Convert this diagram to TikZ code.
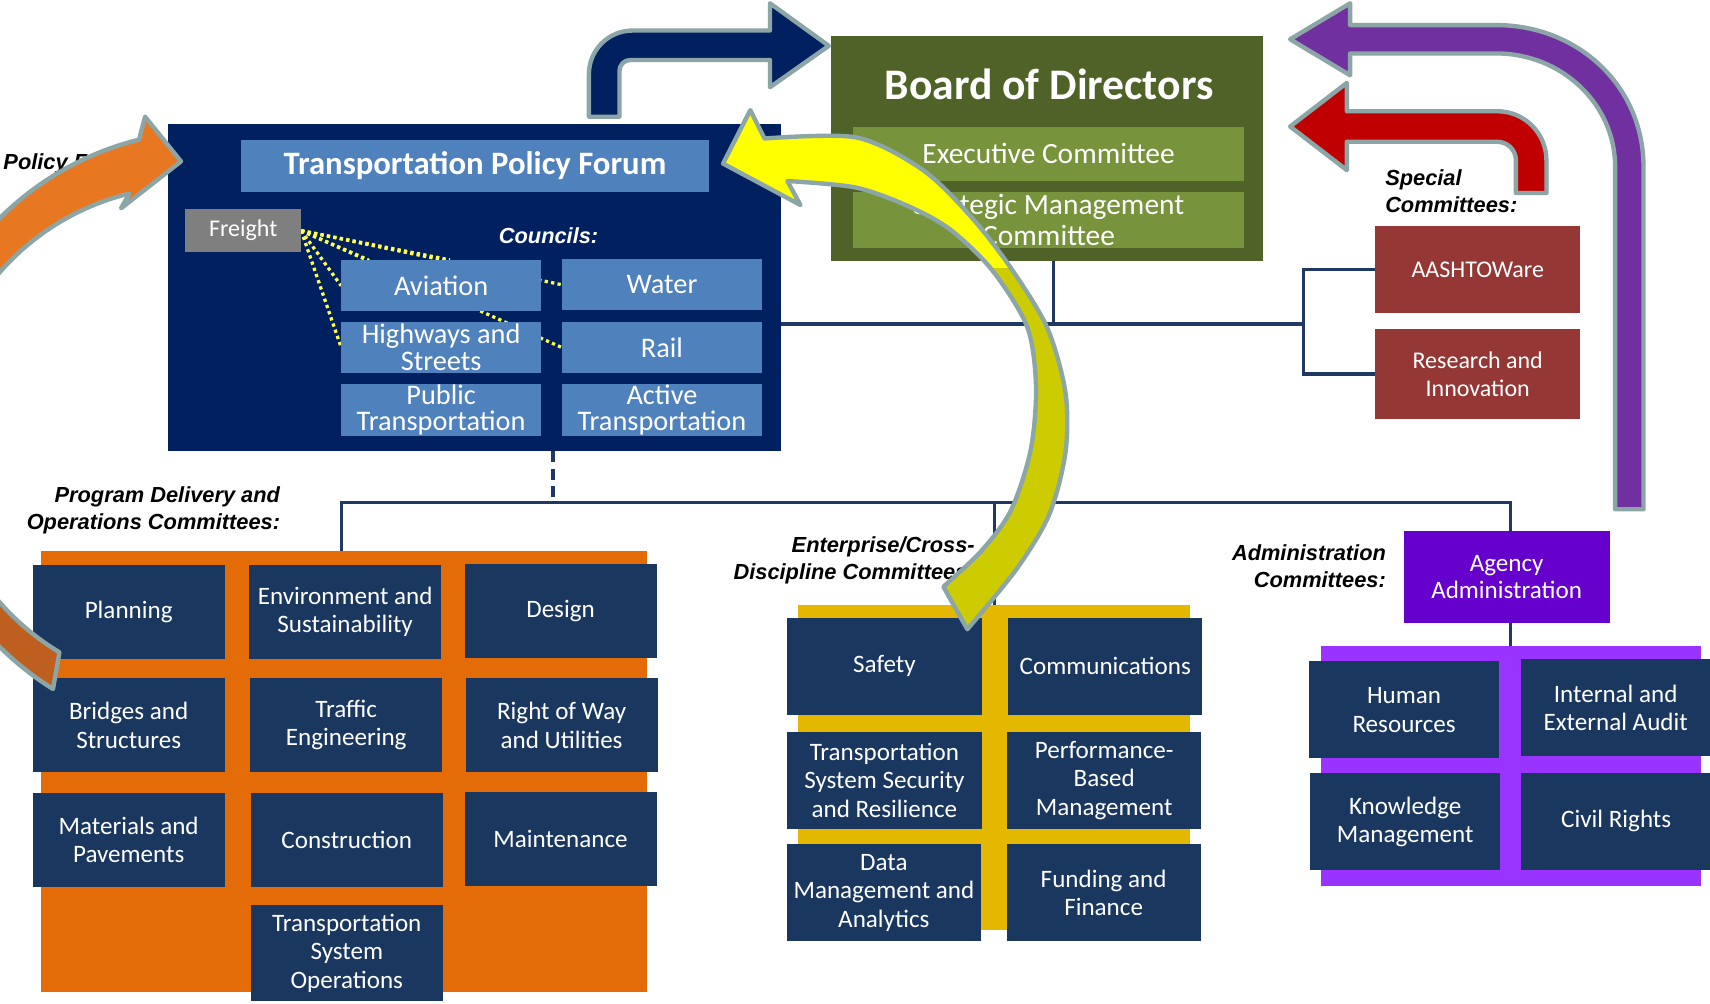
\documentclass[tikz,border=0pt]{standalone}
\usepackage{fontspec}
\setmainfont{Carlito}
\newfontfamily\labfont{Liberation Sans}
\pgfdeclarelayer{back}
\pgfdeclarelayer{mid}
\pgfsetlayers{back,mid,main}
\definecolor{navyb}{HTML}{1A3760}
\definecolor{tpfc}{HTML}{002060}
\definecolor{councilc}{HTML}{4F81BD}
\definecolor{freightc}{HTML}{7F7F7F}
\definecolor{boardc}{HTML}{4F6228}
\definecolor{execc}{HTML}{77933C}
\definecolor{specc}{HTML}{953735}
\definecolor{orangep}{HTML}{E36C09}
\definecolor{yellowp}{HTML}{E5B800}
\definecolor{purplep}{HTML}{9933FF}
\definecolor{agencyc}{HTML}{6600CC}
\definecolor{connc}{HTML}{1F3864}
\definecolor{arrgray}{HTML}{8CA5A6}
\definecolor{navyarr}{HTML}{002060}
\definecolor{redarr}{HTML}{C00000}
\definecolor{purparr}{HTML}{7030A0}
\definecolor{orarr}{HTML}{E87722}
\definecolor{orarrdark}{HTML}{BF5F1F}
\definecolor{yarr}{HTML}{FFFF00}
\definecolor{yarrdark}{HTML}{CCCC00}
\definecolor{dotyellow}{HTML}{FFFF4D}
\begin{document}
\begin{tikzpicture}[x=1pt,y=-1pt,
  cbox/.style={fill=navyb, text=white, align=center, inner sep=0pt, font=\fontsize{23}{26}\selectfont},
  pg/.style={cbox, minimum width=176pt, minimum height=86pt},
  eg/.style={cbox, minimum width=178pt, minimum height=89pt},
  ag/.style={cbox, minimum width=174pt, minimum height=89pt},
  council/.style={fill=councilc, text=white, align=center, inner sep=0pt, font=\fontsize{26}{24}\selectfont, minimum width=183pt, minimum height=47pt},
  spec/.style={fill=specc, text=white, align=center, inner sep=0pt, font=\fontsize{22}{26}\selectfont, minimum width=188pt},
  panel/.style={inner sep=0pt, outer sep=0pt},
  lab/.style={font=\labfont\bfseries\itshape\fontsize{20}{25}\selectfont, inner sep=0pt},
  conn/.style={draw=connc, line width=3pt},
  arrowout/.style={draw=arrgray, line width=4pt, line join=round},
  dotl/.style={draw=dotyellow, line width=3pt, dash pattern=on 3pt off 3pt}
]
\begin{pgfonlayer}{back}
\fill[white] (0,0) rectangle (1568,920);
\node[panel, fill=tpfc, minimum width=562pt, minimum height=300pt] (tpf) at (435,264) {};
\node[panel, fill=orangep, minimum width=555pt, minimum height=405pt] (prodpanel) at (315.5,707.5) {};
\node[panel, fill=yellowp, minimum width=359pt, minimum height=298pt] (entpanel) at (911.5,704) {};
\node[panel, fill=purplep, minimum width=349pt, minimum height=220pt] (admpanel) at (1385.5,702) {};
\end{pgfonlayer}
\path[use as bounding box] (0,0) rectangle (1568,920);

% Board of Directors
\node[panel, fill=boardc, minimum width=396pt, minimum height=206pt] (board) at (960,136) {};
\node[text=white, font=\bfseries\fontsize{40}{44}\selectfont, inner sep=0pt] (bodtitle) at (962,77) {Board of Directors};
\node[fill=execc, text=white, inner sep=0pt, minimum width=359pt, minimum height=50pt, font=\fontsize{27}{28}\selectfont] (exec) at (961.5,141) {Executive Committee};
\node[fill=execc, text=white, inner sep=0pt, align=center, minimum width=359pt, minimum height=51pt, font=\fontsize{27}{28}\selectfont] (strat) at (961.5,201.5) {Strategic Management\\Committee};

% Transportation Policy Forum
\node[fill=councilc, text=white, font=\bfseries\fontsize{30}{32}\selectfont, minimum width=429pt, minimum height=48pt, inner sep=0pt] (tpftitle) at (435.5,152) {Transportation Policy Forum};
\node[fill=freightc, text=white, font=\fontsize{22}{24}\selectfont, minimum width=106pt, minimum height=39pt, inner sep=0pt] (freight) at (223,211.5) {Freight};
\node[lab, text=white] (councils) at (503,216) {Councils:};
\node[council] (aviation) at (404.5,262) {Aviation};
\node[council, minimum width=184pt] (water) at (607,261) {Water};
\node[council] (highways) at (404.5,318.5) {Highways and\\Streets};
\node[council, minimum width=184pt] (rail) at (607,318.5) {Rail};
\node[council] (pubt) at (404.5,376) {Public\\Transportation};
\node[council, minimum width=184pt] (actt) at (607,376) {Active\\Transportation};

% Special committees
\node[lab, anchor=west, align=left] (specl) at (1270,175) {Special\\Committees:};
\node[spec, minimum height=80pt] (aashto) at (1355,247) {AASHTOWare};
\node[spec, minimum height=82pt] (research) at (1355,343) {Research and\\Innovation};

% Program delivery
\node[lab, anchor=east, align=right] (progl) at (257,468) {Program Delivery and\\Operations Committees:};
\node[pg] (planning) at (118,561) {Planning};
\node[pg] (envsus) at (316.5,561) {Environment and\\Sustainability};
\node[pg] (design) at (514,560) {Design};
\node[pg] (bridges) at (118,665) {Bridges and\\Structures};
\node[pg] (traffic) at (317.5,665) {Traffic\\Engineering};
\node[pg] (rowu) at (515,665) {Right of Way\\and Utilities};
\node[pg] (materials) at (118,770) {Materials and\\Pavements};
\node[pg] (construction) at (318,770) {Construction};
\node[pg] (maintenance) at (514,769) {Maintenance};
\node[pg, minimum height=88pt] (tso) at (318,874) {Transportation\\System\\Operations};

% Enterprise
\node[lab, anchor=east, align=right] (entl) at (894,514) {Enterprise/Cross-\\Discipline Committees:};
\node[eg] (safety) at (811,611) {Safety};
\node[eg] (comms) at (1013.5,611) {Communications};
\node[eg] (tssr) at (811,715.5) {Transportation\\System Security\\and Resilience};
\node[eg] (pbm) at (1012.5,715.5) {Performance-\\Based\\Management};
\node[eg] (dma) at (810.5,818.5) {Data\\Management and\\Analytics};
\node[eg] (ff) at (1012,818.5) {Funding and\\Finance};

% Administration
\node[lab, anchor=east, align=right] (adml) at (1271,519) {Administration\\Committees:};
\node[fill=agencyc, text=white, align=center, inner sep=0pt, minimum width=189pt, minimum height=84pt, font=\fontsize{23}{25}\selectfont] (agency) at (1381.5,529) {Agency\\Administration};
\node[ag] (hr) at (1287.5,651) {Human\\Resources};
\node[ag] (iea) at (1481.5,649) {Internal and\\External Audit};
\node[ag] (km) at (1288.5,753.5) {Knowledge\\Management};
\node[ag] (cr) at (1482,753) {Civil Rights};

\node[lab, anchor=west] (policyl) at (3,150) {Policy F};

% connectors
\begin{pgfonlayer}{mid}
\coordinate (jA) at (966,297);
\coordinate (jB) at (1195,297);
\coordinate (jC) at (507,461);
\coordinate (jL) at (313,461);
\coordinate (jM) at (912,461);
\coordinate (jR) at (1385,461);
\draw[conn] (board.south -| jA) -- (jA);
\draw[conn] (tpf.east |- jA) -- (jB);
\draw[conn] (aashto.west) -| (jB) |- (research.west);
\draw[conn, dash pattern=on 10pt off 6pt] (tpf.south -| jC) -- (jC);
\draw[conn] (prodpanel.north -| jL) -- (jL) -- (jR) -- (agency.north -| jR);
\draw[conn] (jM) -- (entpanel.north -| jM);
\draw[conn] (agency.south -| jR) -- (admpanel.north -| jR);
\draw[dotl] (freight.east) -- ([xshift=8pt]aviation.north);
\draw[dotl] (freight.east) -- ([xshift=25pt]aviation.north west);
\draw[dotl] (freight.east) -- (aviation.west);
\draw[dotl] (freight.east) -- (highways.west);
\draw[dotl] (freight.east) -- (water.west);
\draw[dotl] (freight.east) -- (rail.west);
\end{pgfonlayer}

% bent arrows
\filldraw[fill=navyarr, arrowout] (540,107) -- (540,68) .. controls (540,45.9) and (557.9,28) .. (580,28) -- (706,28) -- (706,3) -- (760,42) -- (706,80) -- (706,55) -- (578,55) .. controls (572.5,55) and (568,59.5) .. (568,65) -- (568,107) -- cycle;
\filldraw[fill=redarr, arrowout] (1183,116) -- (1235,76) -- (1235,102) -- (1373,102) .. controls (1397.8,102) and (1418,122.2) .. (1418,147) -- (1418,177) -- (1390,177) -- (1390,147) .. controls (1390,137.6) and (1382.4,130) .. (1373,130) -- (1235,130) -- (1235,156) -- cycle;
\filldraw[fill=purparr, arrowout] (1183,36) -- (1238,3) -- (1238,23) -- (1372,23) .. controls (1446.5,23) and (1507,78.5) .. (1507,153) -- (1507,467) -- (1481,467) -- (1481,153) .. controls (1481,95.6) and (1432.2,49) .. (1372,49) -- (1238,49) -- (1238,69) -- cycle;

% yellow curved arrow
\def\ypath{(663,150) -- (688,101) -- (701,127) -- plot[smooth] coordinates {(701,127) (785,126) (845,155) (888,196) (925,243) (960,300) (977,360) (977,415) (962,472) (932,522) (887,577)} -- (865,538) -- plot[smooth] coordinates {(865,538) (900,505) (927,468) (945,413) (950,355) (942,300) (910,248) (872,211) (835,190) (785,172) (722,166)} -- (734,188) -- cycle}
\fill[yarrdark] \ypath;
\begin{scope}
\clip (600,0) rectangle (1100,245);
\fill[yarr] \ypath;
\end{scope}
\draw[arrowout] \ypath;

% orange curved arrow
\def\opath{(166,148) -- (133,107) -- (127.5,128) arc[start angle=255.9, end angle=121.9, radius=277] -- (54.5,598.1) arc[start angle=121, end angle=256.3, radius=230] -- (111,191) -- cycle}
\fill[orarr] \opath;
\begin{scope}
\clip (-100,430) rectangle (300,700);
\fill[orarrdark] \opath;
\end{scope}
\draw[arrowout] \opath;
\end{tikzpicture}
\end{document}
